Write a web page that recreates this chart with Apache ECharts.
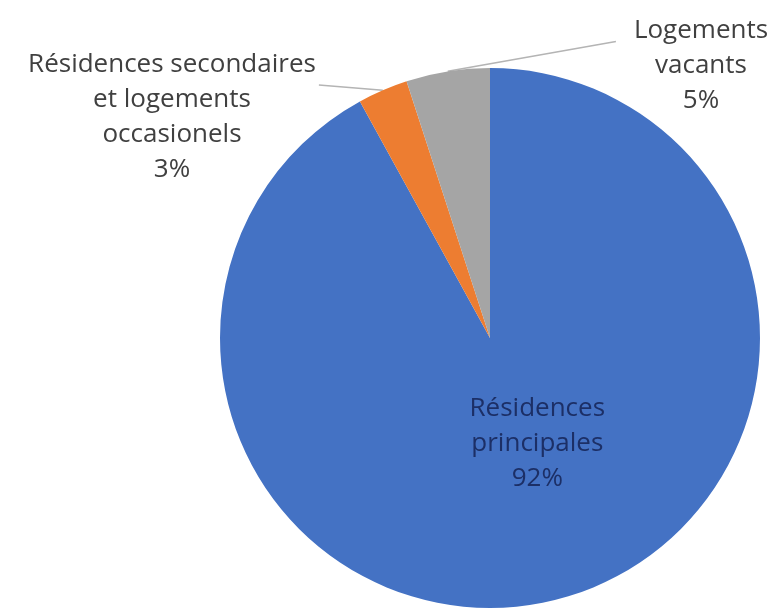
<!DOCTYPE html>
<html>
<head>
<meta charset="utf-8">
<script src="https://cdn.jsdelivr.net/npm/echarts@6/dist/echarts.min.js"></script>
<style>
html,body{margin:0;padding:0;background:#fff;}
#chart{width:774px;height:610px;}
</style>
</head>
<body>
<div id="chart"></div>
<script>
var categories = ["Résidences principales", "Résidences secondaires et logements occasionels", "Logements vacants"];
var labelTexts = ["Résidences\nprincipales", "Résidences secondaires\net logements\noccasionels", "Logements\nvacants"];
var values = [92, 3, 5];
var colors = ["#4472C4", "#ED7D31", "#A5A5A5"];

var chart = echarts.init(document.getElementById('chart'), null, {renderer: 'canvas'});
var data = categories.map(function (c, i) {
  return {name: c, value: values[i], itemStyle: {color: colors[i]}};
});
data[0].label = {position: 'inside', color: '#1c2f66', offset: [13, -28]};
data[0].labelLine = {show: false};

var fontFamily = "'Open Sans', sans-serif";
chart.setOption({
  animation: false,
  series: [{
    type: 'pie',
    center: [490, 338],
    radius: 270,
    startAngle: 90,
    clockwise: true,
    data: data,
    itemStyle: {borderWidth: 0},
    label: {
      show: true,
      fontFamily: fontFamily,
      fontSize: 26,
      lineHeight: 35,
      color: '#404040',
      align: 'center',
      overflow: 'none',
      formatter: function (p) {
        return labelTexts[p.dataIndex] + '\n' + Math.round(p.percent) + '%';
      }
    },
    labelLine: {
      show: true,
      length: 10,
      length2: 40,
      lineStyle: {color: '#b4b4b4', width: 1.5}
    },
    labelLayout: function (p) {
      var r = p.labelRect;
      var start = p.labelLinePoints ? p.labelLinePoints[0] : null;
      if (p.dataIndex === 1) {
        var cx = 172, cy = 117;
        var res = {x: cx, y: cy, align: 'center', verticalAlign: 'middle'};
        if (start) res.labelLinePoints = [start, [cx + r.width / 2 + 3, cy - r.height / 2 + 38]];
        return res;
      }
      if (p.dataIndex === 2) {
        var cx2 = 701, cy2 = 66;
        var res2 = {x: cx2, y: cy2, align: 'center', verticalAlign: 'middle'};
        if (start) res2.labelLinePoints = [start, [cx2 - r.width / 2 - 18, cy2 - r.height / 2 + 28]];
        return res2;
      }
      return {};
    }
  }]
});
</script>
</body>
</html>
